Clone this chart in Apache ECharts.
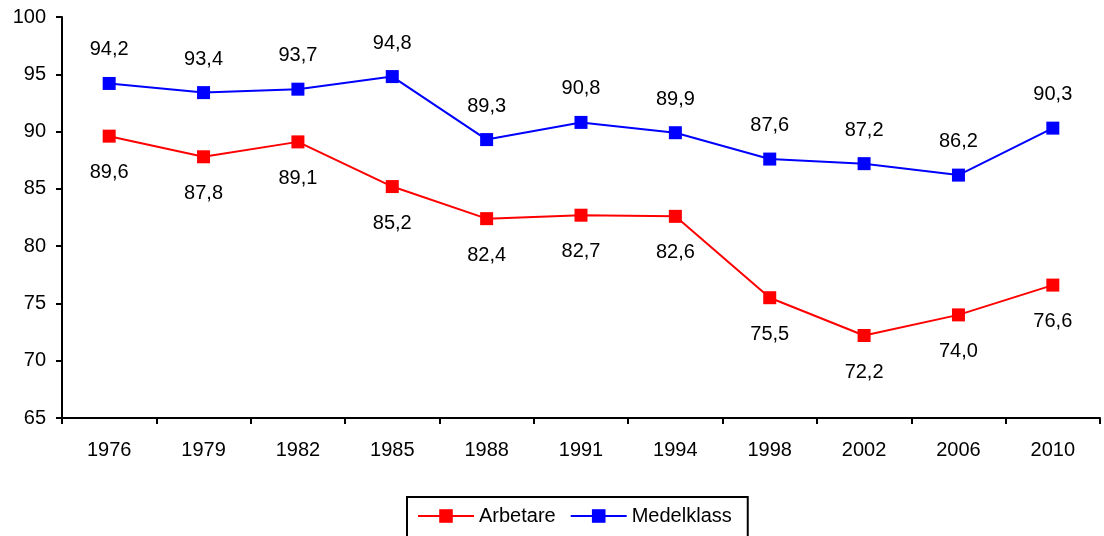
<!DOCTYPE html>
<html>
<head>
<meta charset="utf-8">
<script src="https://cdn.jsdelivr.net/npm/echarts@6/dist/echarts.min.js"></script>
<style>
  html, body { margin: 0; padding: 0; background: #fff; }
  #chart { width: 1104px; height: 536px; }
</style>
</head>
<body>
<div id="chart"></div>
<script>
// data
const years = ["1976", "1979", "1982", "1985", "1988", "1991", "1994", "1998", "2002", "2006", "2010"];
const arbetare = [89.6, 87.8, 89.1, 85.2, 82.4, 82.7, 82.6, 75.5, 72.2, 74.0, 76.6];
const medelklass = [94.2, 93.4, 93.7, 94.8, 89.3, 90.8, 89.9, 87.6, 87.2, 86.2, 90.3];

const font = "Liberation Sans, Arial, sans-serif";
const fmt = p => p.value.toFixed(1).replace(".", ",");

const chart = echarts.init(document.getElementById("chart"));
chart.setOption({
  animation: false,
  textStyle: { fontFamily: font },
  grid: { left: 62, right: 4, top: 17, bottom: 118 },
  legend: {
    left: 407,
    top: 497,
    padding: [9, 16, 12, 10],
    borderColor: "#000",
    borderWidth: 2,
    itemWidth: 56,
    itemHeight: 17,
    itemGap: 14,
    textStyle: { fontSize: 20, color: "#000", fontFamily: font },
    data: ["Arbetare", "Medelklass"]
  },
  xAxis: {
    type: "category",
    data: years,
    boundaryGap: true,
    axisLine: { lineStyle: { color: "#000", width: 2 } },
    axisTick: { show: true, length: 6, lineStyle: { color: "#000", width: 2 } },
    axisLabel: { fontSize: 20, color: "#000", margin: 22 },
    splitLine: { show: false }
  },
  yAxis: {
    type: "value",
    min: 65,
    max: 100,
    interval: 5,
    axisLine: { show: true, lineStyle: { color: "#000", width: 2 } },
    axisTick: { show: true, length: 6, lineStyle: { color: "#000", width: 2 } },
    axisLabel: { fontSize: 20, color: "#000", margin: 16 },
    splitLine: { show: false }
  },
  series: [
    {
      name: "Arbetare",
      type: "line",
      data: arbetare,
      color: "#ff0000",
      symbol: "rect",
      symbolSize: 13,
      lineStyle: { width: 2 },
      label: { show: true, position: "bottom", distance: 20, fontSize: 20, color: "#000", formatter: fmt }
    },
    {
      name: "Medelklass",
      type: "line",
      data: medelklass,
      color: "#0000ff",
      symbol: "rect",
      symbolSize: 13,
      lineStyle: { width: 2 },
      label: { show: true, position: "top", distance: 17, fontSize: 20, color: "#000", formatter: fmt }
    }
  ]
});
</script>
</body>
</html>
